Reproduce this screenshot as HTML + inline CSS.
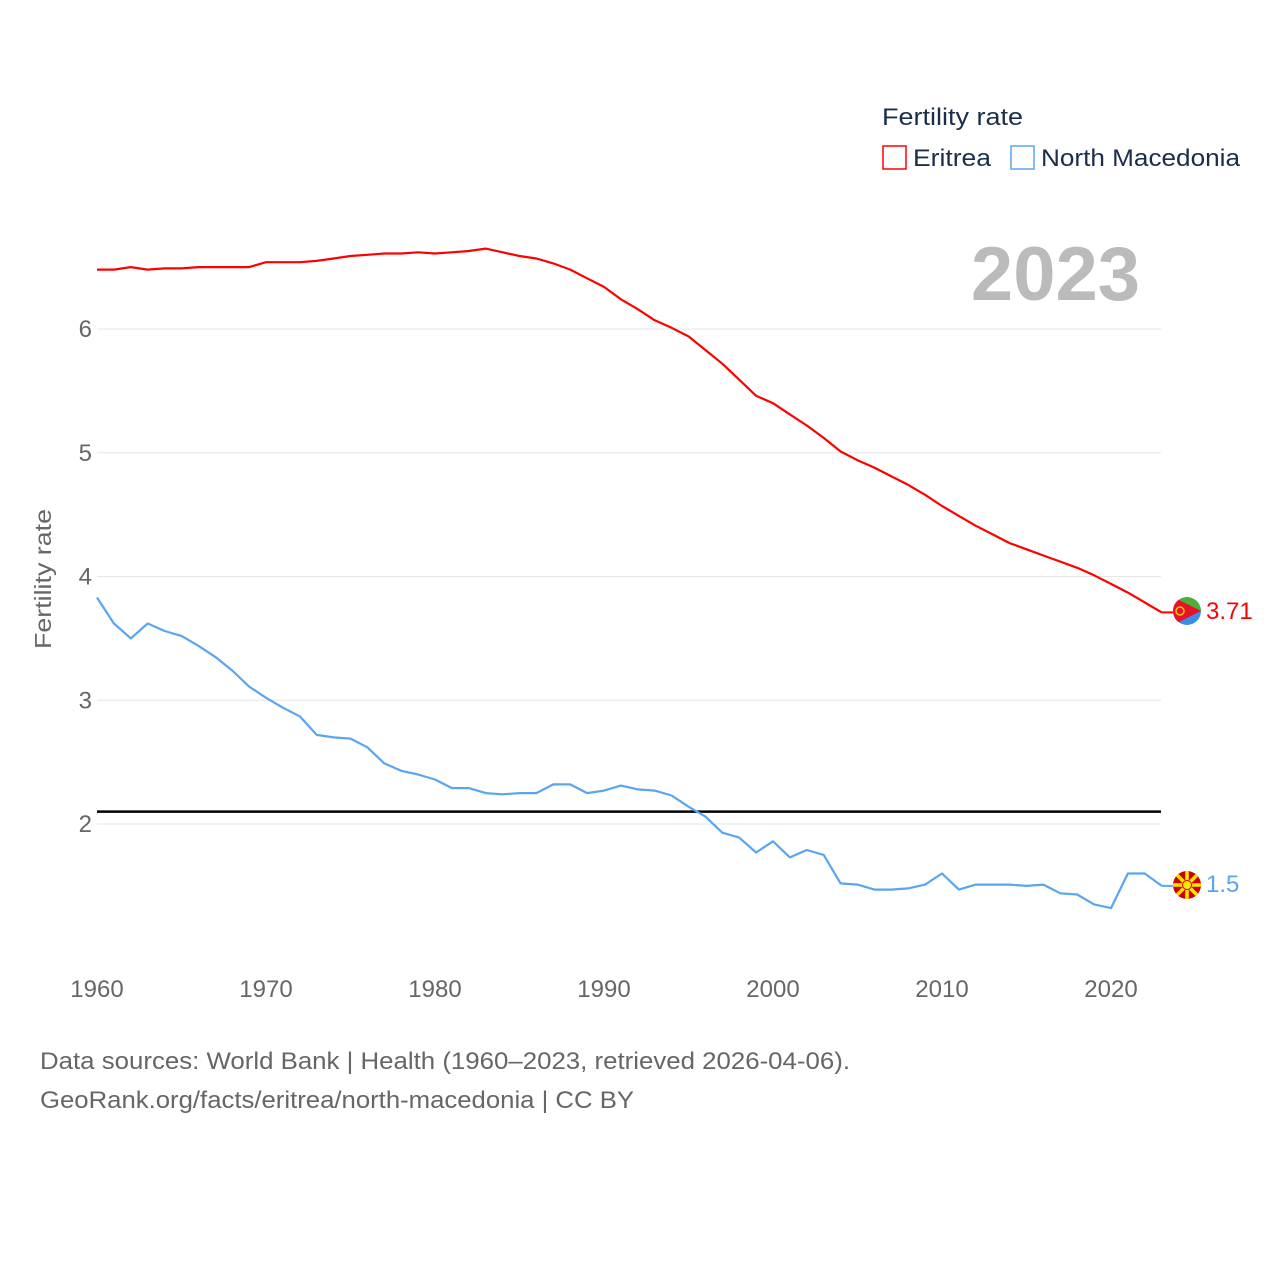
<!DOCTYPE html>
<html><head><meta charset="utf-8">
<style>
html,body{margin:0;padding:0;background:#fff;}
body{width:1280px;height:1280px;overflow:hidden;font-family:"Liberation Sans","DejaVu Sans",sans-serif;}
</style></head>
<body>
<svg id="chart" width="1280" height="1280" xmlns="http://www.w3.org/2000/svg">
  <g id="grid"></g>
  <g id="yticks"></g>
  <g id="xticks"></g>
  <text transform="translate(51,579) rotate(-90)" text-anchor="middle" font-size="23" fill="#666" textLength="140" lengthAdjust="spacingAndGlyphs">Fertility rate</text>
  <line id="replacement" stroke="#000" stroke-width="2.5"/>
  <g id="series"></g>
  <text x="1140" y="300" text-anchor="end" font-size="76" font-weight="bold" fill="#bbb">2023</text>
  <g>
    <text x="882" y="125" font-size="24" fill="#1a2e4a" textLength="141" lengthAdjust="spacingAndGlyphs">Fertility rate</text>
    <rect x="883" y="146" width="23" height="23" fill="none" stroke="#f00" stroke-width="1.5"/>
    <text x="913" y="166" font-size="24" fill="#1a2e4a" textLength="78" lengthAdjust="spacingAndGlyphs">Eritrea</text>
    <rect x="1011" y="146" width="23" height="23" fill="none" stroke="#5aa5f0" stroke-width="1.5"/>
    <text x="1041" y="166" font-size="24" fill="#1a2e4a" textLength="199" lengthAdjust="spacingAndGlyphs">North Macedonia</text>
  </g>
  <g>
    <clipPath id="c1"><circle cx="1187" cy="611" r="14"/></clipPath>
    <g clip-path="url(#c1)">
      <rect x="1173" y="597" width="28" height="14" fill="#4caf3a"/>
      <rect x="1173" y="611" width="28" height="14" fill="#3a8ee6"/>
      <polygon points="1173,597 1201,611 1173,625" fill="#e8112d"/>
      <circle cx="1180" cy="611" r="4" fill="none" stroke="#f5c400" stroke-width="1.5"/>
    </g>
  </g>
  <g>
    <clipPath id="c2"><circle cx="1187" cy="885" r="14"/></clipPath>
    <g clip-path="url(#c2)">
      <rect x="1173" y="871" width="28" height="28" fill="#d20000"/>
      <g stroke="#ffe600" stroke-width="3.5">
        <line x1="1173" y1="885" x2="1201" y2="885"/><line x1="1187" y1="871" x2="1187" y2="899"/>
        <line x1="1173" y1="871" x2="1201" y2="899"/><line x1="1201" y1="871" x2="1173" y2="899"/>
      </g>
      <circle cx="1187" cy="885" r="4.5" fill="#ffe600" stroke="#d20000" stroke-width="1"/>
    </g>
  </g>
  <text x="1206" y="619" font-size="24" fill="#f00">3.71</text>
  <text x="1206" y="892" font-size="24" fill="#5aa5f0">1.5</text>
  <text x="40" y="1069" font-size="24" fill="#666" textLength="810" lengthAdjust="spacingAndGlyphs">Data sources: World Bank | Health (1960–2023, retrieved 2026-04-06).</text>
  <text x="40" y="1108" font-size="24" fill="#666" textLength="594" lengthAdjust="spacingAndGlyphs">GeoRank.org/facts/eritrea/north-macedonia | CC BY</text>
</svg>
<script>
const years = Array.from({length:64},(_,i)=>1960+i);
const eritrea = [6.48,6.48,6.50,6.48,6.49,6.49,6.50,6.50,6.50,6.50,6.54,6.54,6.54,6.55,6.57,6.59,6.60,6.61,6.61,6.62,6.61,6.62,6.63,6.65,6.62,6.59,6.57,6.53,6.48,6.41,6.34,6.24,6.16,6.07,6.01,5.94,5.83,5.72,5.59,5.46,5.40,5.31,5.22,5.12,5.01,4.94,4.88,4.81,4.74,4.66,4.57,4.49,4.41,4.34,4.27,4.22,4.17,4.12,4.07,4.01,3.94,3.87,3.79,3.71];
const macedonia = [3.83,3.62,3.50,3.62,3.56,3.52,3.44,3.35,3.24,3.11,3.02,2.94,2.87,2.72,2.70,2.69,2.62,2.49,2.43,2.40,2.36,2.29,2.29,2.25,2.24,2.25,2.25,2.32,2.32,2.25,2.27,2.31,2.28,2.27,2.23,2.14,2.06,1.93,1.89,1.77,1.86,1.73,1.79,1.75,1.52,1.51,1.47,1.47,1.48,1.51,1.60,1.47,1.51,1.51,1.51,1.50,1.51,1.44,1.43,1.35,1.32,1.60,1.60,1.50];
const yTicks = [2,3,4,5,6];
const xTicks = [1960,1970,1980,1990,2000,2010,2020];
const replacementRate = 2.1;

const NS="http://www.w3.org/2000/svg";
const X = yr => 97 + (yr-1960)*16.9;
const Y = v => 824 - (v-2)*123.75;
function mk(tag,attrs,parent){const e=document.createElementNS(NS,tag);for(const k in attrs)e.setAttribute(k,attrs[k]);parent.appendChild(e);return e;}
const grid=document.getElementById('grid'), yt=document.getElementById('yticks'), xt=document.getElementById('xticks');
yTicks.forEach(v=>{
  const l=mk('line',{x1:97,x2:1161,y1:Y(v),y2:Y(v),stroke:'#e6e6e6','stroke-width':1},grid);
  
  
  const t=mk('text',{x:92,y:Y(v)+8,'text-anchor':'end','font-size':24,fill:'#666'},yt);
  t.textContent=v;
  
  
});
xTicks.forEach(v=>{
  const t=mk('text',{x:X(v),y:997,'text-anchor':'middle','font-size':24,fill:'#666'},xt);
  t.textContent=v;
  
  
});
const rl=document.getElementById('replacement');
rl.setAttribute('x1',97);rl.setAttribute('x2',1161);
rl.setAttribute('y1',Y(replacementRate));rl.setAttribute('y2',Y(replacementRate));
const sg=document.getElementById('series');
function line(vals,color,name){
  const p=mk('polyline',{points:vals.map((v,i)=>X(years[i]).toFixed(1)+','+Y(v).toFixed(1)).join(' '),fill:'none',stroke:color,'stroke-width':2.2,'stroke-linejoin':'round'},sg);
  
  
  const last=vals.length-1;
  const c=mk('line',{x1:X(years[last]),y1:Y(vals[last]),x2:1173,y2:Y(vals[last]),stroke:color,'stroke-width':2},sg);
  
  
}
line(eritrea,'#f00','eritrea-line');
line(macedonia,'#5aa5f0','north-macedonia-line');
</script>
</body></html>
